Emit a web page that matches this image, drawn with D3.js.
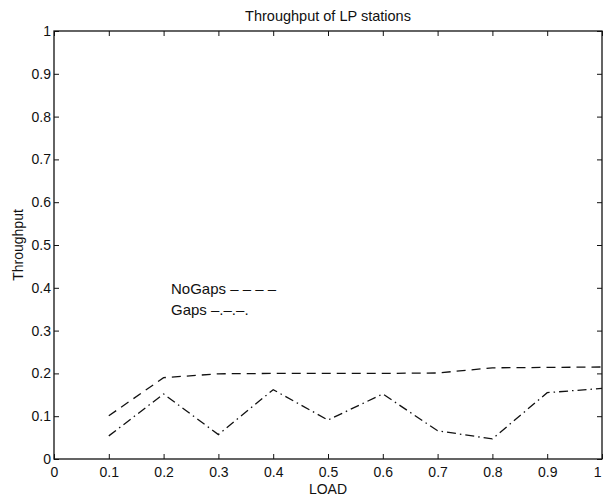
<!DOCTYPE html>
<html>
<head>
<meta charset="utf-8">
<script src="https://cdn.jsdelivr.net/npm/d3@7"></script>
<style>
  html, body { margin: 0; padding: 0; background: #fff; }
  svg { display: block; }
  text { font-family: "Liberation Sans", Arial, sans-serif; fill: #111; }
</style>
</head>
<body>
<svg id="chart" width="603" height="497"></svg>
<script>
const loads = [0.1, 0.2, 0.3, 0.4, 0.5, 0.6, 0.7, 0.8, 0.9, 1.0];
const noGaps = [0.101, 0.190, 0.199, 0.200, 0.200, 0.200, 0.201, 0.213, 0.214, 0.215];
const gaps = [0.054, 0.152, 0.057, 0.162, 0.091, 0.152, 0.066, 0.047, 0.155, 0.165];
const xTicks = [0, 0.1, 0.2, 0.3, 0.4, 0.5, 0.6, 0.7, 0.8, 0.9, 1];
const yTicks = [0, 0.1, 0.2, 0.3, 0.4, 0.5, 0.6, 0.7, 0.8, 0.9, 1];
const xTickLabels = ["0", "0.1", "0.2", "0.3", "0.4", "0.5", "0.6", "0.7", "0.8", "0.9", "1"];
const yTickLabels = ["0", "0.1", "0.2", "0.3", "0.4", "0.5", "0.6", "0.7", "0.8", "0.9", "1"];
const titleText = "Throughput of LP stations";
const xLabel = "LOAD";
const yLabel = "Throughput";
const legendItems = [
  {name: "NoGaps", sample: "– – – –"},
  {name: "Gaps", sample: "–.–.–."}
];

const svg = d3.select("#chart");
const m = {left: 54, right: 602, top: 31, bottom: 459};
const x = d3.scaleLinear().domain([0, 1]).range([m.left, m.right]);
const y = d3.scaleLinear().domain([0, 1]).range([m.bottom, m.top]);
const tl = 5;

// box
svg.append("rect").attr("x", m.left).attr("y", m.top)
  .attr("width", m.right - m.left).attr("height", m.bottom - m.top)
  .attr("fill", "none").attr("stroke", "#111").attr("stroke-width", 1.3);

// bottom axis (inward ticks)
const xb = svg.append("g").attr("transform", `translate(0,${m.bottom})`)
  .call(d3.axisBottom(x).tickValues(xTicks).tickSize(-tl).tickPadding(8)
    .tickFormat((d, i) => xTickLabels[i]));
xb.select(".domain").remove();
xb.selectAll("line").attr("stroke", "#111");
xb.selectAll("text").attr("font-size", 14).attr("dy", "0.71em");
xb.selectAll("text").filter((d, i) => i === xTicks.length - 1)
  .attr("text-anchor", "end").attr("dx", "-1");

// top axis ticks
const xt = svg.append("g").attr("transform", `translate(0,${m.top})`)
  .call(d3.axisTop(x).tickValues(xTicks).tickSize(-tl).tickFormat(""));
xt.select(".domain").remove();
xt.selectAll("line").attr("stroke", "#111");

// left axis
const yl = svg.append("g").attr("transform", `translate(${m.left},0)`)
  .call(d3.axisLeft(y).tickValues(yTicks).tickSize(-tl).tickPadding(3)
    .tickFormat((d, i) => yTickLabels[i]));
yl.select(".domain").remove();
yl.selectAll("line").attr("stroke", "#111");
yl.selectAll("text").attr("font-size", 14);

// right axis ticks
const yr = svg.append("g").attr("transform", `translate(${m.right},0)`)
  .call(d3.axisRight(y).tickValues(yTicks).tickSize(-tl).tickFormat(""));
yr.select(".domain").remove();
yr.selectAll("line").attr("stroke", "#111");

// lines
const line = d3.line().x(d => x(d[0])).y(d => y(d[1]));
svg.append("path").datum(loads.map((l, i) => [l, noGaps[i]]))
  .attr("d", line).attr("fill", "none").attr("stroke", "#111")
  .attr("stroke-width", 1.3).attr("stroke-dasharray", "9,6");
svg.append("path").datum(loads.map((l, i) => [l, gaps[i]]))
  .attr("d", line).attr("fill", "none").attr("stroke", "#111")
  .attr("stroke-width", 1.3).attr("stroke-dasharray", "9,4,1.5,4");

// title & labels
svg.append("text").attr("x", (m.left + m.right) / 2).attr("y", 21)
  .attr("text-anchor", "middle").attr("font-size", 14.5).text(titleText);
svg.append("text").attr("x", (m.left + m.right) / 2).attr("y", 494)
  .attr("text-anchor", "middle").attr("font-size", 14).text(xLabel);
svg.append("text").attr("transform", `translate(23,${(m.top + m.bottom) / 2}) rotate(-90)`)
  .attr("text-anchor", "middle").attr("font-size", 14).text(yLabel);

// legend as text
const lg = svg.append("g");
legendItems.forEach((d, i) => {
  lg.append("text").attr("x", 171).attr("y", 294 + i * 21)
    .attr("font-size", 15).text(d.name + " " + d.sample);
});
</script>
</body>
</html>
